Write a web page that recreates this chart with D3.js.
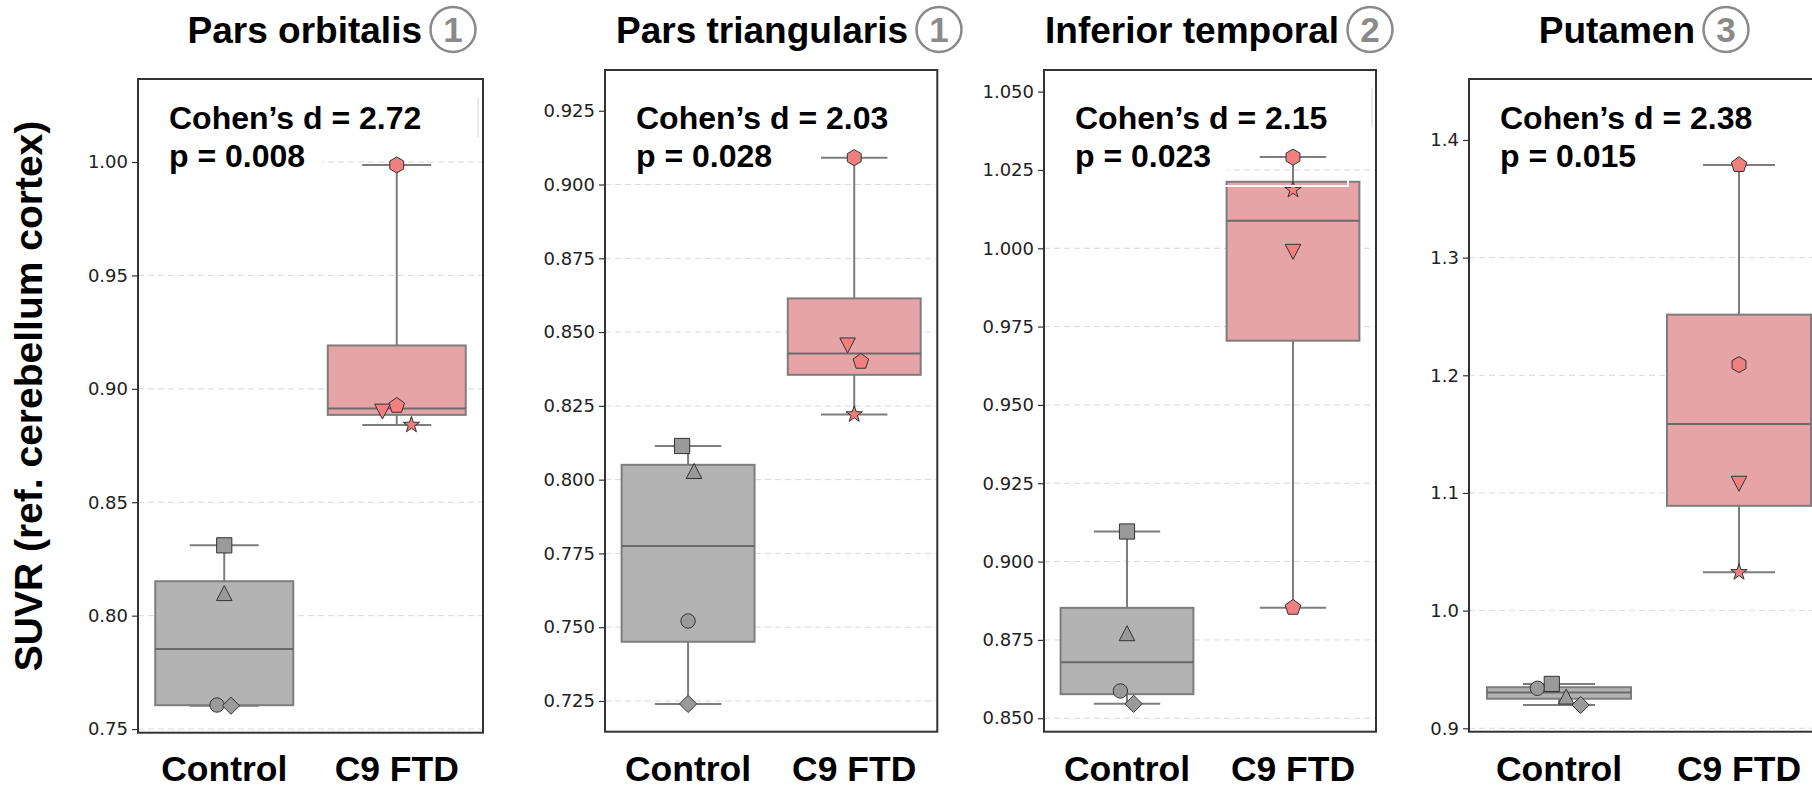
<!DOCTYPE html>
<html><head><meta charset="utf-8">
<script src="https://cdn.jsdelivr.net/npm/d3@7"></script>
<style>body{margin:0;background:#fff} svg{display:block}</style>
</head><body>
<svg id="chart" width="1812" height="789"></svg>
<script>
// ---------------- DATA ----------------
const regions = ["Pars orbitalis", "Pars triangularis", "Inferior temporal", "Putamen"];
const regionBadges = ["1", "1", "2", "3"];
const groups = ["Control", "C9 FTD"];
const cohensD = ["2.72", "2.03", "2.15", "2.38"];
const pValues = ["0.008", "0.028", "0.023", "0.015"];
const controlShapes = ["circle", "square", "triangleUp", "diamond"];
const c9Shapes = ["hexagon", "pentagon", "triangleDown", "star"];

// SUVR per subject (order matches the shape arrays)
const controlParsOrbitalis    = [0.7606, 0.8310, 0.8099, 0.7603];
const c9ParsOrbitalis         = [0.9987, 0.8926, 0.8900, 0.8841];
const controlParsTriangularis = [0.7521, 0.8114, 0.8029, 0.7240];
const c9ParsTriangularis      = [0.9091, 0.8400, 0.8455, 0.8221];
const controlInferiorTemporal = [0.8587, 0.9096, 0.8771, 0.8546];
const c9InferiorTemporal      = [1.0291, 0.8853, 0.9989, 1.0186];
const controlPutamen          = [0.9340, 0.9377, 0.9269, 0.9198];
const c9Putamen               = [1.2091, 1.3788, 1.1079, 1.0326];

// horizontal dodge of the points, as a fraction of one category
const controlOffsets = [[-0.042, 0, 0, 0.039], [0, -0.036, 0.036, 0], [-0.04, 0, 0, 0.04], [-0.12, -0.04, 0.04, 0.12]];
const c9Offsets      = [[0, 0, -0.083, 0.085], [0, 0.04, -0.04, 0], [0, 0, 0, 0], [0, 0, 0, 0]];

// y tick labels
const ticksParsOrbitalis    = ["0.75", "0.80", "0.85", "0.90", "0.95", "1.00"];
const ticksParsTriangularis = ["0.725", "0.750", "0.775", "0.800", "0.825", "0.850", "0.875", "0.900", "0.925"];
const ticksInferiorTemporal = ["0.850", "0.875", "0.900", "0.925", "0.950", "0.975", "1.000", "1.025", "1.050"];
const ticksPutamen          = ["0.9", "1.0", "1.1", "1.2", "1.3", "1.4"];

// y axis limits
const yLimits = [[0.7484, 1.0366], [0.7146, 0.9388], [0.8457, 1.0569], [0.8971, 1.4518]];

const yLabel = "SUVR (ref. cerebellum cortex)";

// ---------------- LAYOUT ----------------
const frames = [
  {x0: 138, y0: 79, x1: 483, y1: 732.7},
  {x0: 605, y0: 70, x1: 937.3, y1: 731.7},
  {x0: 1044, y0: 70, x1: 1376, y1: 731.7},
  {x0: 1469, y0: 79, x1: 1829, y1: 731.7}
];
const titleEnds = [422, 908, 1339, 1695];

const controlValues = [controlParsOrbitalis, controlParsTriangularis, controlInferiorTemporal, controlPutamen];
const c9Values = [c9ParsOrbitalis, c9ParsTriangularis, c9InferiorTemporal, c9Putamen];
const tickSets = [ticksParsOrbitalis, ticksParsTriangularis, ticksInferiorTemporal, ticksPutamen];

const boldFont = "'Liberation Sans', Arial, Helvetica, sans-serif";
const tickFont = "'DejaVu Sans', sans-serif";
const styles = {
  Control: {box: "#b3b3b3", marker: "#9a9a9a"},
  "C9 FTD": {box: "#e6a4a6", marker: "#f08080"}
};
const edgeGrey = "#7d7d7d";

function poly(n, r, rot) {
  const p = d3.path();
  for (let k = 0; k < n; k++) {
    const a = rot + k * 2 * Math.PI / n;
    const x = r * Math.cos(a), y = r * Math.sin(a);
    k ? p.lineTo(x, y) : p.moveTo(x, y);
  }
  p.closePath();
  return p.toString();
}
function markerPath(shape) {
  const p = d3.path();
  switch (shape) {
    case "circle": p.arc(0, 0, 7.2, 0, 2 * Math.PI); p.closePath(); return p.toString();
    case "square": p.rect(-7.6, -7.6, 15.2, 15.2); return p.toString();
    case "triangleUp": p.moveTo(0, -7.6); p.lineTo(7.8, 7.4); p.lineTo(-7.8, 7.4); p.closePath(); return p.toString();
    case "triangleDown": p.moveTo(0, 7.6); p.lineTo(7.8, -7.4); p.lineTo(-7.8, -7.4); p.closePath(); return p.toString();
    case "diamond": return poly(4, 8.6, -Math.PI / 2);
    case "hexagon": return poly(6, 8, -Math.PI / 2);
    case "pentagon": return poly(5, 8.2, -Math.PI / 2);
    case "star": {
      for (let k = 0; k < 10; k++) {
        const r = k % 2 ? 3.3 : 8.6;
        const a = -Math.PI / 2 + k * Math.PI / 5;
        const x = r * Math.cos(a), y = r * Math.sin(a);
        k ? p.lineTo(x, y) : p.moveTo(x, y);
      }
      p.closePath(); return p.toString();
    }
  }
}

const svg = d3.select("#chart");
svg.append("rect").attr("width", 1812).attr("height", 789).attr("fill", "#fff");

// y label
svg.append("text")
  .attr("transform", "translate(42,396) rotate(-90)")
  .attr("text-anchor", "middle")
  .attr("font-family", boldFont).attr("font-weight", "bold").attr("font-size", 39)
  .attr("fill", "#000").text(yLabel);

regions.forEach((region, i) => {
  const f = frames[i];
  const g = svg.append("g");
  const x = d3.scaleBand().domain(groups).range([f.x0, f.x1]).paddingInner(0).paddingOuter(0);
  const bw = x.bandwidth();
  const y = d3.scaleLinear().domain(yLimits[i]).range([f.y1, f.y0]);
  const tickVals = tickSets[i].map(Number);

  // grid
  g.selectAll(".grid").data(tickVals).join("line")
    .attr("x1", f.x0).attr("x2", f.x1)
    .attr("y1", d => y(d)).attr("y2", d => y(d))
    .attr("stroke", "#d9d9d9").attr("stroke-width", 1).attr("stroke-dasharray", "6,4");

  // text annotation
  const ann = g.append("g");
  const mask1 = ann.append("rect").attr("fill", "#fff");
  const mask2 = ann.append("rect").attr("fill", "#fff");

  // boxes
  const sets = [controlValues[i], c9Values[i]];
  const shapes = [controlShapes, c9Shapes];
  const offs = [controlOffsets[i], c9Offsets[i]];
  const boxLayer = g.append("g");
  const ptLayer = g.append("g");
  groups.forEach((grp, gi) => {
    const vals = sets[gi].slice().sort(d3.ascending);
    const q1 = d3.quantile(vals, 0.25), med = d3.quantile(vals, 0.5), q3 = d3.quantile(vals, 0.75);
    const lo = d3.min(vals), hi = d3.max(vals);
    const cx = x(grp) + bw / 2;
    const half = bw * 0.4, cap = bw * 0.2;
    const st = styles[grp];
    // whiskers
    boxLayer.append("line").attr("x1", cx).attr("x2", cx).attr("y1", y(q3)).attr("y2", y(hi))
      .attr("stroke", edgeGrey).attr("stroke-width", 2);
    boxLayer.append("line").attr("x1", cx).attr("x2", cx).attr("y1", y(q1)).attr("y2", y(lo))
      .attr("stroke", edgeGrey).attr("stroke-width", 2);
    [hi, lo].forEach(v => boxLayer.append("line").attr("x1", cx - cap).attr("x2", cx + cap)
      .attr("y1", y(v)).attr("y2", y(v)).attr("stroke", edgeGrey).attr("stroke-width", 2));
    boxLayer.append("rect").attr("x", cx - half).attr("width", 2 * half)
      .attr("y", y(q3)).attr("height", y(q1) - y(q3))
      .attr("fill", st.box).attr("stroke", edgeGrey).attr("stroke-width", 2);
    boxLayer.append("line").attr("x1", cx - half).attr("x2", cx + half)
      .attr("y1", y(med)).attr("y2", y(med)).attr("stroke", "#6a6a6a").attr("stroke-width", 2);
    // points
    sets[gi].forEach((v, k) => {
      ptLayer.append("path").attr("d", markerPath(shapes[gi][k]))
        .attr("transform", `translate(${cx + offs[gi][k] * bw},${y(v)})`)
        .attr("fill", st.marker).attr("stroke", "#333").attr("stroke-width", 1);
    });
    // x label
    g.append("text").attr("x", cx).attr("y", 781).attr("text-anchor", "middle")
      .attr("font-family", boldFont).attr("font-weight", "bold").attr("font-size", 35.5)
      .attr("fill", "#000").text(grp);
  });

  // legend remnant artefacts
  if (i === 2) {
    g.append("path").attr("d", "M1225,186H1348V180").attr("fill", "none").attr("stroke", "#fff").attr("stroke-width", 2);
    g.append("line").attr("x1", 1372).attr("x2", 1372).attr("y1", 88).attr("y2", 127).attr("stroke", "#e2e2e2").attr("stroke-width", 1.5);
  }
  if (i === 0) {
    g.append("line").attr("x1", 478).attr("x2", 478).attr("y1", 97).attr("y2", 137).attr("stroke", "#e2e2e2").attr("stroke-width", 1.5);
  }

  // annotation text
  const tx = f.x0 + 31;
  const t1 = ann.append("text").attr("x", tx).attr("y", 129)
    .attr("font-family", boldFont).attr("font-weight", "bold").attr("font-size", 32).attr("fill", "#000")
    .text(`Cohen\u2019s d = ${cohensD[i]}`);
  const t2 = ann.append("text").attr("x", tx).attr("y", 167)
    .attr("font-family", boldFont).attr("font-weight", "bold").attr("font-size", 32).attr("fill", "#000")
    .text(`p = ${pValues[i]}`);
  const w2 = t2.node().getComputedTextLength();
  mask1.attr("x", f.x0 + 1.5).attr("width", f.x1 - f.x0 - 3).attr("y", Math.max(f.y0 + 2, 84)).attr("height", 146 - Math.max(f.y0 + 2, 84));
  mask2.attr("x", f.x0 + 1.5).attr("width", tx + w2 + 15 - f.x0).attr("y", 146).attr("height", 34);

  // frame
  g.append("rect").attr("x", f.x0).attr("y", f.y0).attr("width", f.x1 - f.x0).attr("height", f.y1 - f.y0)
    .attr("fill", "none").attr("stroke", "#333").attr("stroke-width", 2);

  // y axis
  const ax = g.append("g").attr("transform", `translate(${f.x0},0)`)
    .call(d3.axisLeft(y).tickValues(tickVals).tickFormat((d, k) => tickSets[i][k]).tickSize(6).tickPadding(4));
  ax.select(".domain").remove();
  ax.selectAll(".tick line").attr("stroke", "#333").attr("stroke-width", 1.2);
  ax.selectAll(".tick text").attr("font-family", tickFont).attr("font-size", 18).attr("fill", "#222");

  // title + badge
  const te = titleEnds[i];
  g.append("text").attr("x", te).attr("y", 43).attr("text-anchor", "end")
    .attr("font-family", boldFont).attr("font-weight", "bold").attr("font-size", 37).attr("fill", "#000")
    .text(region);
  g.append("circle").attr("cx", te + 31).attr("cy", 29.5).attr("r", 22.5)
    .attr("fill", "none").attr("stroke", "#8a8a8a").attr("stroke-width", 2.5);
  g.append("text").attr("x", te + 31).attr("y", 42).attr("text-anchor", "middle")
    .attr("font-family", boldFont).attr("font-weight", "bold").attr("font-size", 35).attr("fill", "#8a8a8a")
    .text(regionBadges[i]);
});
</script>
</body></html>
